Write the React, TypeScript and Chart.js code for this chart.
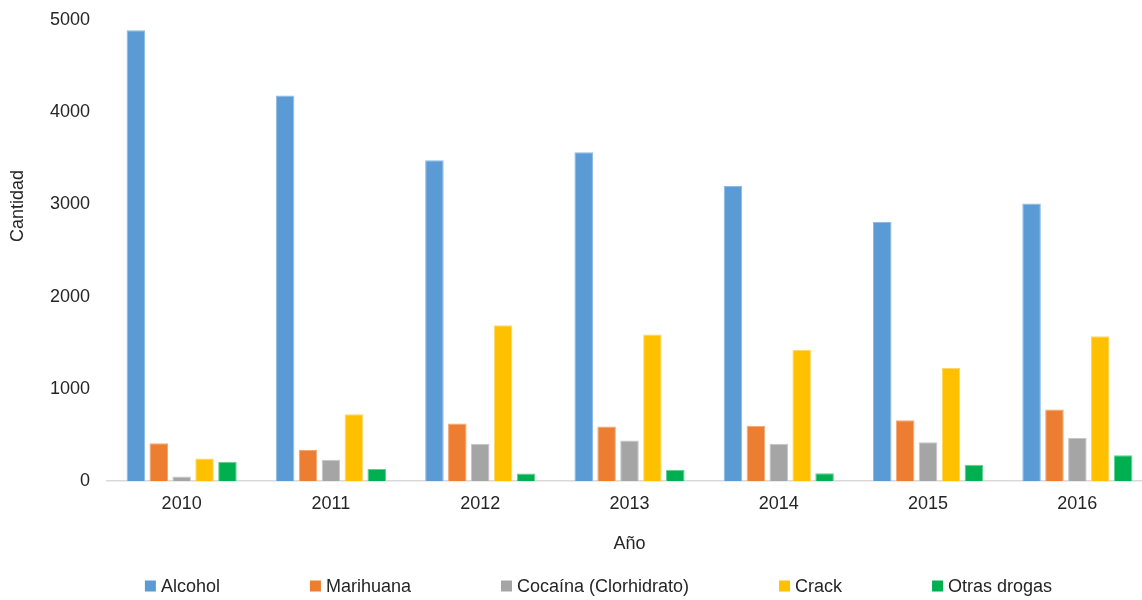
import React, { useEffect, useRef } from "react";
import { Chart, registerables } from "chart.js";

Chart.register(...registerables);

const years = ["2010", "2011", "2012", "2013", "2014", "2015", "2016"];
const seriesNames = ["Alcohol", "Marihuana", "Cocaína (Clorhidrato)", "Crack", "Otras drogas"];
const alcohol = [4890, 4180, 3480, 3565, 3200, 2810, 3010];
const marihuana = [410, 335, 625, 590, 600, 660, 775];
const cocaina = [50, 230, 405, 440, 405, 420, 470];
const crack = [245, 725, 1690, 1590, 1420, 1225, 1570];
const otras = [210, 130, 80, 120, 85, 175, 280];
const yTicks = [0, 1000, 2000, 3000, 4000, 5000];

const colors = ["#5B9BD5", "#ED7D31", "#A5A5A5", "#FFC000", "#00B050"];
const edgeColors = ["#8DB9E4", "#F3A774", "#C6C6C6", "#FFD666", "#5FCF8E"];

const FONT = "'Liberation Sans', Arial, sans-serif";
const FONT_SIZE = 18;
const TEXT_COLOR = "#262626";
const PAD_LEFT = 45;
const PAD_RIGHT = 8;

// Draws the rotated y-axis title and the bottom legend row.
const overlayPlugin = {
  id: "overlay",
  afterDraw(chart: any) {
    const ctx = chart.ctx as CanvasRenderingContext2D;
    ctx.save();
    ctx.font = `${FONT_SIZE}px ${FONT}`;
    ctx.fillStyle = TEXT_COLOR;
    ctx.textAlign = "center";
    ctx.textBaseline = "middle";
    ctx.translate(18, 206);
    ctx.rotate(-Math.PI / 2);
    ctx.fillText("Cantidad", 0, 0);
    ctx.restore();

    ctx.save();
    ctx.font = `${FONT_SIZE}px ${FONT}`;
    const box = 11;
    const boxGap = 5;
    const itemGap = 90;
    const widths = chart.data.datasets.map(
      (ds: any) => box + boxGap + ctx.measureText(ds.label).width
    );
    const total = widths.reduce((a: number, b: number) => a + b, 0) + itemGap * (widths.length - 1);
    const center = (PAD_LEFT + chart.chartArea.right) / 2;
    let x = center - total / 2;
    const y = 586;
    chart.data.datasets.forEach((ds: any, i: number) => {
      ctx.fillStyle = ds.backgroundColor;
      ctx.fillRect(x, y - box / 2, box, box);
      ctx.fillStyle = TEXT_COLOR;
      ctx.textAlign = "left";
      ctx.textBaseline = "middle";
      ctx.fillText(ds.label, x + box + boxGap, y + 1);
      x += widths[i] + itemGap;
    });
    ctx.restore();
  },
};

export default function App() {
  const canvasRef = useRef<HTMLCanvasElement | null>(null);

  useEffect(() => {
    const canvas = canvasRef.current;
    if (!canvas) return;
    const values = [alcohol, marihuana, cocaina, crack, otras];
    const chart = new Chart(canvas, {
      type: "bar",
      data: {
        labels: years,
        datasets: seriesNames.map((name, i) => ({
          label: name,
          data: values[i],
          backgroundColor: colors[i],
          borderColor: edgeColors[i],
          borderWidth: 1,
          barPercentage: 0.81,
          categoryPercentage: 0.767,
        })),
      },
      options: {
        responsive: false,
        animation: false,
        layout: { padding: { left: PAD_LEFT, right: PAD_RIGHT, top: 20, bottom: 39 } },
        plugins: {
          legend: { display: false },
          tooltip: { enabled: false },
        },
        scales: {
          x: {
            grid: { display: true, color: "transparent", drawTicks: false, drawOnChartArea: false },
            border: { display: true, color: "#d9d9d9", width: 1.5 },
            ticks: {
              color: TEXT_COLOR,
              font: { family: FONT, size: FONT_SIZE },
              padding: 12,
            },
            title: {
              display: true,
              text: "Año",
              color: TEXT_COLOR,
              font: { family: FONT, size: FONT_SIZE },
              padding: { top: 0, bottom: 6 },
            },
            afterFit: (scale: any) => {
              scale.height = 80;
            },
          },
          y: {
            min: 0,
            max: 5000,
            afterBuildTicks: (scale: any) => {
              scale.ticks = yTicks.map((v) => ({ value: v }));
            },
            grid: { display: false, drawTicks: false },
            border: { display: false },
            ticks: {
              color: TEXT_COLOR,
              font: { family: FONT, size: FONT_SIZE },
              padding: 17,
              callback: (value: any) => String(value),
            },
            afterFit: (scale: any) => {
              scale.width = 62;
              scale.paddingTop = 10;
              scale.paddingBottom = 10;
            },
          },
        },
      },
      plugins: [overlayPlugin],
    });
    return () => chart.destroy();
  }, []);

  return (
    <div
      style={{
        position: "absolute",
        left: 0,
        top: 0,
        width: 1142,
        height: 600,
        overflow: "hidden",
        background: "#ffffff",
      }}
    >
      <canvas ref={canvasRef} width={1160} height={600} style={{ display: "block" }} />
    </div>
  );
}
